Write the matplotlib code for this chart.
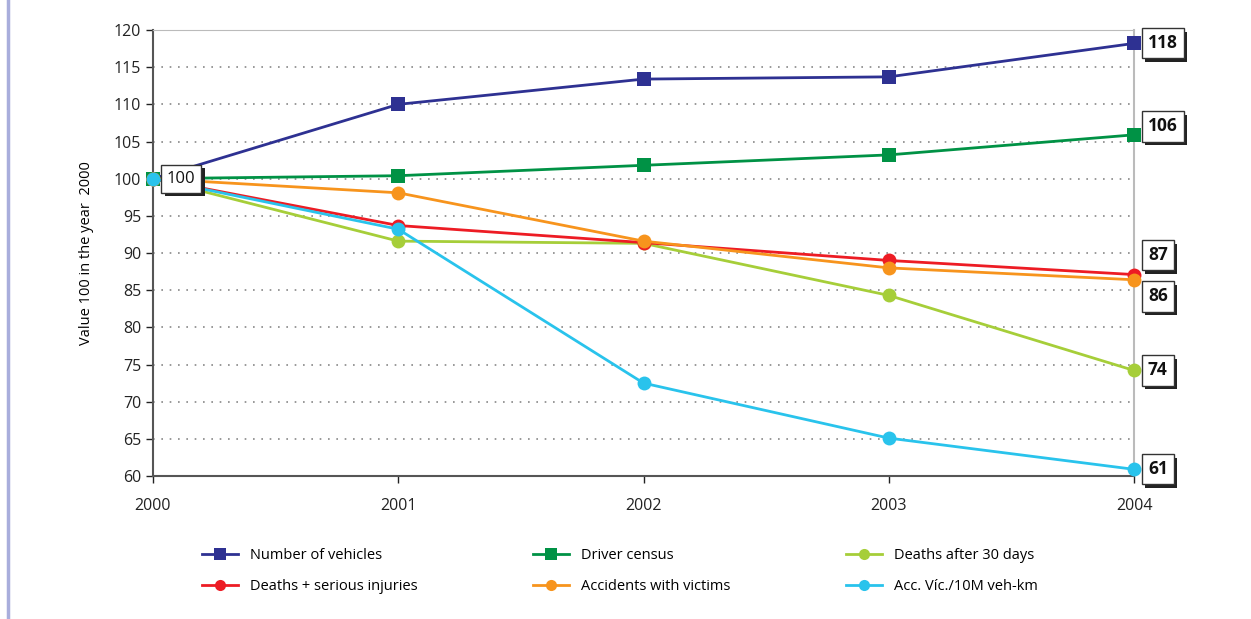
import matplotlib
matplotlib.use("Agg")
import matplotlib.pyplot as plt
import matplotlib.patheffects as pe
from matplotlib.lines import Line2D

plt.rcParams['font.family'] = ['Open Sans', 'DejaVu Sans']

years = [2000, 2001, 2002, 2003, 2004]

vehicles = [100, 110.0, 113.4, 113.7, 118.2]
driver_census = [100, 100.4, 101.8, 103.2, 105.9]
deaths_30 = [100, 91.6, 91.3, 84.3, 74.2]
deaths_serious = [100, 93.7, 91.4, 89.0, 87.1]
accidents = [100, 98.1, 91.6, 88.0, 86.4]
acc_per_km = [100, 93.2, 72.5, 65.1, 60.9]

names = ["Number of vehicles", "Driver census", "Deaths after 30 days",
         "Deaths + serious injuries", "Accidents with victims", "Acc. Víc./10M veh-km"]
end_labels = ["118", "106", "74", "87", "86", "61"]

series = [vehicles, driver_census, deaths_30, deaths_serious, accidents, acc_per_km]
colors = ["#2E3192", "#009245", "#A6CE39", "#ED1C24", "#F7941D", "#29C3EC"]
markers = ["s", "s", "o", "o", "o", "o"]
# label offsets (points) from the 2004 point
label_dy = [0, 6, 0, 14, -12, 0]

fig = plt.figure(figsize=(12.51, 6.19), dpi=100)
ax = fig.add_axes([0.1223, 0.231, 0.7842, 0.7205])

for vals, c, m, n in zip(series, colors, markers, names):
    ax.plot(years, vals, color=c, lw=2, marker=m, markersize=10,
            markeredgewidth=0, label=n, clip_on=False, zorder=3)

ax.set_xlim(2000, 2004)
ax.set_ylim(60, 120)
ax.set_xticks(years)
ax.set_yticks(range(60, 121, 5))
ax.tick_params(labelsize=11.5, colors="#222222", length=5, width=1, direction="out")
ax.tick_params(axis="x", pad=11)
ax.yaxis.grid(True, linestyle=(0, (1, 4)), color="#888888", lw=1.2)
ax.set_axisbelow(True)
ax.spines["left"].set_color("#555555")
ax.spines["bottom"].set_color("#555555")
ax.spines["left"].set_linewidth(1.5)
ax.spines["bottom"].set_linewidth(1.5)
ax.spines["top"].set_color("#bbbbbb")
ax.spines["right"].set_color("#bbbbbb")
ax.spines["right"].set_linewidth(1.5)
ax.set_ylabel("Value 100 in the year  2000", fontsize=10.5, labelpad=14)

shadow = [pe.withSimplePatchShadow(offset=(2.5, -2.5), shadow_rgbFace="#222222", alpha=1)]

def box_label(x, y, txt, dx, dy, bold, size):
    t = ax.annotate(txt, (x, y), xytext=(dx, dy), textcoords="offset points",
                    ha="left", va="center", fontsize=size,
                    fontweight="bold" if bold else "normal", color="#111111",
                    bbox=dict(boxstyle="square,pad=0.35", fc="white", ec="#333333", lw=1),
                    zorder=5, annotation_clip=False)
    t.get_bbox_patch().set_path_effects(shadow)

box_label(years[0], 100, "100", 10, 0, False, 12)
for vals, lab, dy in zip(series, end_labels, label_dy):
    box_label(years[-1], vals[-1], lab, 10, dy, True, 12.5)

order = [0, 3, 1, 4, 2, 5]
handles = [Line2D([], [], color=colors[i], lw=2, marker=markers[i], markersize=8,
                  markeredgewidth=0) for i in order]
fig.legend(handles, [names[i] for i in order], ncol=3, frameon=False,
           loc="center left", bbox_to_anchor=(0.151, 0.077), fontsize=10.5,
           columnspacing=7.9, handlelength=2.5, labelspacing=1.1, handletextpad=0.8)

fig.add_artist(Line2D([0.0065, 0.0065], [0, 1], color="#A9AEDC", lw=2.5,
                      transform=fig.transFigure))

fig.savefig("out.png", dpi=100)
